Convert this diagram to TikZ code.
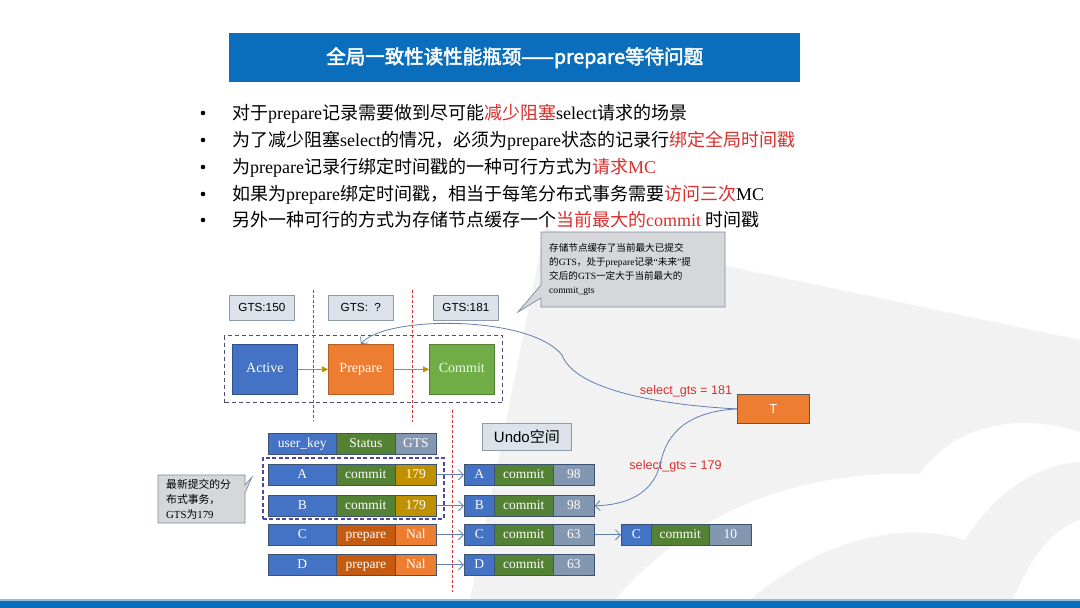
\documentclass[tikz,border=0pt]{standalone}
\usepackage{fontspec}
\setmainfont{Liberation Serif}
\newfontfamily\cjk{Noto Sans CJK SC}
\newfontfamily\cjkb[FakeBold=2.5]{Noto Sans CJK SC}
\newfontfamily\arial{Liberation Sans}
\usetikzlibrary{arrows.meta}
\definecolor{titleblue}{HTML}{0A6EBD}
\definecolor{cred}{HTML}{D9302F}
\definecolor{cblue}{HTML}{4472C4}
\definecolor{cgreen}{HTML}{548235}
\definecolor{lgreen}{HTML}{70AD47}
\definecolor{cgold}{HTML}{BF9000}
\definecolor{cdorange}{HTML}{C55A11}
\definecolor{corange}{HTML}{ED7D31}
\definecolor{cgray}{HTML}{8497B0}
\definecolor{cellborder}{HTML}{3E5272}
\definecolor{lblfill}{HTML}{DCE1EA}
\definecolor{lblborder}{HTML}{8E9AAE}
\definecolor{callfill}{HTML}{D6D7DA}
\definecolor{callborder}{HTML}{7D8AA0}
\definecolor{linkcol}{HTML}{5F7FB3}
\definecolor{cpurple}{HTML}{5046A6}
\definecolor{wm}{HTML}{F2F2F3}
\newcommand\zh[1]{{\cjk #1}}
\newcommand\hl[1]{{\color{cred}#1}}
\tikzset{
  bullettext/.style={anchor=base west, inner sep=0, font=\fontsize{18}{20}\selectfont},
  bulletdot/.style={circle, fill=black, inner sep=0, minimum size=4.6},
  lbl/.style={draw=lblborder, fill=lblfill, line width=0.7, minimum width=65, minimum height=25, inner sep=0, anchor=north west, font=\arial\fontsize{11.7}{13}\selectfont},
  statebox/.style={minimum width=65, minimum height=50, inner sep=0, anchor=north west, text=white, line width=0.7, text height=10, text depth=3, font=\fontsize{14}{16}\selectfont},
  cell/.style={minimum height=21, inner sep=0, anchor=north west, text=white, draw=cellborder, line width=0.6, text height=9.5, text depth=3, font=\fontsize{13.5}{15}\selectfont},
  garrow/.style={draw=cgold, line width=1, -{Triangle[length=6pt,width=6pt]}},
  barrow/.style={draw=linkcol, line width=0.8, -{Straight Barb[length=5pt,width=10pt]}},
  curvelink/.style={draw=linkcol, line width=0.8, -{Straight Barb[length=5pt,width=10pt]}},
  rdash/.style={draw=cred, line width=0.8, dash pattern=on 3pt off 2pt},
  redlbl/.style={text=cred, font=\arial\fontsize{12.6}{14}\selectfont, inner sep=0},
  callout/.style={fill=callfill, draw=callborder, line width=0.7},
}
\begin{document}
\begin{tikzpicture}[x=1pt,y=-1pt]
\useasboundingbox (0,0) rectangle (1080,608);
\fill[white] (0,0) rectangle (1080,608);
% faint watermark
\fill[wm] (470,600) -- (545,228) -- (1080,340) -- (1080,600) -- cycle;
\fill[white] (615,600) .. controls (700,500) and (820,470) .. (920,474) .. controls (950,430) and (1010,410) .. (1080,432) -- (1080,600) -- cycle;
\fill[wm] (750,600) .. controls (820,540) and (900,520) .. (965,540) .. controls (990,500) and (1030,465) .. (1080,462) -- (1080,600) -- cycle;
\fill[white] (1013,600) .. controls (1030,560) and (1050,530) .. (1080,520) -- (1080,600) -- cycle;

% title
\node[fill=titleblue, minimum width=571, minimum height=49, inner sep=0, anchor=north west, text=white, font=\cjkb\fontsize{19.5}{21}\selectfont] (title) at (229,33) {全局一致性读性能瓶颈——prepare等待问题};

% bullets
\foreach \y/\n in {113/1,140/2,167/3,194/4,220/5}{
  \node[bulletdot] (dot\n) at (203,\y) {};
}
\node[bullettext] (b1) at (232,119) {\zh{对于}prepare\zh{记录需要做到尽可能}\hl{\zh{减少阻塞}}select\zh{请求的场景}};
\node[bullettext] (b2) at (232,146) {\zh{为了减少阻塞}select\zh{的情况，必须为}prepare\zh{状态的记录行}\hl{\zh{绑定全局时间戳}}};
\node[bullettext] (b3) at (232,173) {\zh{为}prepare\zh{记录行绑定时间戳的一种可行方式为}\hl{\zh{请求}MC}};
\node[bullettext] (b4) at (232,200) {\zh{如果为}prepare\zh{绑定时间戳，相当于每笔分布式事务需要}\hl{\zh{访问三次}}MC};
\node[bullettext] (b5) at (232,226) {\zh{另外一种可行的方式为存储节点缓存一个}\hl{\zh{当前最大的}commit} \zh{时间戳}};

% top callout
\path[callout] (541,232) -- (725,232) -- (725,307) -- (541,307) -- (541,298) -- (518,312) -- (541,285) -- cycle;
\node[anchor=north west, inner sep=0, align=left, font=\fontsize{9.6}{14}\selectfont] (ctop) at (549,243) {\zh{存储节点缓存了当前最大已提交}\\\zh{的}GTS\zh{，处于}prepare\zh{记录}“\zh{未来}”\zh{提}\\\zh{交后的}GTS\zh{一定大于当前最大的}\\commit\_gts};

% GTS labels
\node[lbl] (g1) at (229,295) {GTS:150};
\node[lbl] (g2) at (328,295) {GTS:\ \ ?};
\node[lbl] (g3) at (433,295) {GTS:181};

% group dashed box
\node[draw=black!60!blue!40!gray, line width=1.1, dash pattern=on 4pt off 3pt, minimum width=278, minimum height=67, inner sep=0, anchor=north west] (grp) at (224,335) {};

% states
\node[statebox, fill=cblue, draw=cblue!70!black] (act) at (232,344) {Active};
\node[statebox, fill=corange, draw=corange!75!black] (prep) at (328,344) {Prepare};
\node[statebox, fill=lgreen, draw=lgreen!75!black, text=green!8!white] (com) at (429,344) {Commit};
\draw[garrow] (act) -- (prep);
\draw[garrow] (prep) -- (com);

% red dashed separators
\draw[rdash] (313,290) -- (313,421);
\draw[rdash] (412,290) -- (412,422);
\draw[rdash] (452,410) -- (452,592);

% T
\node[fill=corange, draw=black!65, line width=0.8, minimum width=72, minimum height=29, inner sep=0, anchor=north west, text=white, font=\arial\fontsize{13}{15}\selectfont] (T) at (737,394) {T};
\node[redlbl] (l181) at (686,391) {select\_gts = 181};
\node[redlbl] (l179) at (675.5,466) {select\_gts = 179};

% Undo label
\node[lbl, minimum width=89, minimum height=27, font=\arial\fontsize{15}{17}\selectfont] (undo) at (482,423) {Undo\zh{空间}};

% table header
\node[cell, fill=cblue, minimum width=68] (hk) at (268,433) {user\_key};
\node[cell, fill=cgreen, minimum width=59] (hs) at (336,433) {Status};
\node[cell, fill=cgray, minimum width=41] (hg) at (395,433) {GTS};

% rows
\foreach \r/\y/\st/\sc/\gv/\gc in {A/464/commit/cgreen/179/cgold, B/495/commit/cgreen/179/cgold, C/524/prepare/cdorange/Nal/corange, D/554/prepare/cdorange/Nal/corange}{
  \node[cell, fill=cblue, minimum width=68] (k\r) at (268,\y) {\r};
  \node[cell, fill=\sc, minimum width=59] (s\r) at (336,\y) {\st};
  \node[cell, fill=\gc, minimum width=41] (g\r) at (395,\y) {\gv};
}
% undo rows
\foreach \r/\y/\v in {A/464/98, B/495/98, C/524/63, D/554/63}{
  \node[cell, fill=cblue, minimum width=30] (u\r1) at (464,\y) {\r};
  \node[cell, fill=cgreen, minimum width=59] (u\r2) at (494,\y) {commit};
  \node[cell, fill=cgray, minimum width=41] (u\r3) at (553,\y) {\v};
  \draw[barrow] (g\r.east) -- (u\r1.west);
}
% extra C version
\node[cell, fill=cblue, minimum width=30] (xC1) at (621,524) {C};
\node[cell, fill=cgreen, minimum width=58] (xC2) at (651,524) {commit};
\node[cell, fill=cgray, minimum width=42] (xC3) at (709,524) {10};
\draw[barrow] (uC3.east) -- (xC1.west);

% purple dashed box
\node[draw=cpurple, line width=1.5, dash pattern=on 4pt off 2.5pt, minimum width=181, minimum height=61, inner sep=0, anchor=north west] (fresh) at (262,457) {};

% curves from T
\draw[curvelink] (T.west) .. controls (660,405) and (575,390) .. (562,355) .. controls (530,315) and (385,315) .. (prep.north);
\draw[curvelink] (T.west) .. controls (680,412) and (665,440) .. (660,465) .. controls (652,495) and (625,505) .. (uB3.east);

% left callout
\path[callout] (158,475) -- (245,475) -- (245,485) -- (252,477) -- (245,493) -- (245,523) -- (158,523) -- cycle;
\node[anchor=north west, inner sep=0, align=left, font=\fontsize{10.8}{15}\selectfont] (cleft) at (166,479) {\zh{最新提交的分}\\\zh{布式事务，}\\GTS\zh{为}179};

% bottom bar
\fill[titleblue!45!white] (0,599) rectangle (1080,601);
\fill[titleblue] (0,601) rectangle (1080,608);
\end{tikzpicture}
\end{document}
